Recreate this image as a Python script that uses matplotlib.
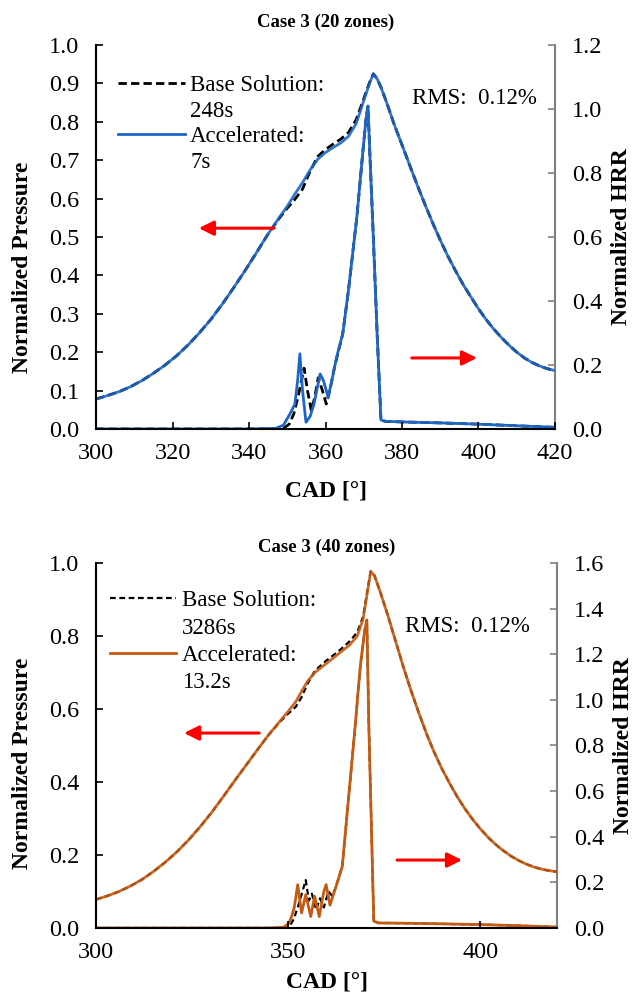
import matplotlib
matplotlib.use("Agg")
import matplotlib.pyplot as plt
from matplotlib.lines import Line2D

plt.rcParams['font.family'] = ['Liberation Serif', 'DejaVu Serif']

# ---- Case 3 (20 zones) ----
cad_p1 = [300, 303, 306, 309, 312, 315, 318, 321, 324, 327, 330, 333, 336, 339, 342, 345,
          348, 350, 352, 354, 356, 358, 360, 362, 364, 366, 368, 370, 371.5, 372.5, 373.5,
          374.5, 376, 378, 380, 382, 384, 386, 388, 390, 392, 394, 396, 398, 400, 402, 404,
          406, 408, 410, 412, 414, 416, 418, 420]
p_acc1 = [0.078, 0.087, 0.097, 0.11, 0.126, 0.145, 0.166, 0.19, 0.218, 0.25, 0.285, 0.325,
          0.368, 0.413, 0.46, 0.508, 0.552, 0.58, 0.612, 0.642, 0.675, 0.703, 0.72, 0.733,
          0.745, 0.762, 0.795, 0.855, 0.9, 0.925, 0.912, 0.89, 0.85, 0.792, 0.74, 0.687,
          0.635, 0.585, 0.537, 0.492, 0.45, 0.412, 0.376, 0.344, 0.313, 0.285, 0.26, 0.238,
          0.218, 0.2, 0.185, 0.173, 0.164, 0.157, 0.152]
p_base1 = [0.078, 0.087, 0.097, 0.11, 0.126, 0.145, 0.166, 0.19, 0.218, 0.25, 0.285, 0.325,
           0.368, 0.413, 0.46, 0.508, 0.55, 0.575, 0.598, 0.625, 0.672, 0.71, 0.728, 0.742,
           0.755, 0.772, 0.805, 0.86, 0.902, 0.925, 0.912, 0.89, 0.85, 0.792, 0.74, 0.687,
           0.635, 0.585, 0.537, 0.492, 0.45, 0.412, 0.376, 0.344, 0.313, 0.285, 0.26, 0.238,
           0.218, 0.2, 0.185, 0.173, 0.164, 0.157, 0.152]

cad_h1 = [300, 340, 347, 349, 350.7, 352, 352.7, 353.3, 354, 354.9, 356, 357, 358.6, 359.5,
          360.7, 361.8, 362.9, 364.5, 366, 368.2, 369.8, 370.6, 371.1, 371.6, 372.5, 373.5,
          374.5, 375.6, 380, 390, 400, 410, 420]
hrr_acc1 = [0, 0, 0.002, 0.012, 0.047, 0.078, 0.15, 0.235, 0.12, 0.021, 0.04, 0.078, 0.172,
            0.15, 0.099, 0.16, 0.224, 0.297, 0.433, 0.663, 0.871, 0.97, 1.009, 0.86, 0.6,
            0.297, 0.028, 0.024, 0.022, 0.019, 0.015, 0.01, 0.005]
cad_hb1 = [300, 347, 349, 350.5, 351.7, 353, 354.4, 355.3, 356.3, 357.2, 358.1, 359.2, 360.2,
           361.3, 362.3, 363.5, 364.5, 366, 368.2, 369.8, 370.6, 371.1, 371.6, 372.5, 373.5,
           374.5, 375.6, 380, 390, 400, 410, 420]
hrr_base1 = [0, 0, 0.002, 0.015, 0.047, 0.11, 0.19, 0.12, 0.057, 0.1, 0.16, 0.12, 0.078,
             0.13, 0.19, 0.25, 0.297, 0.433, 0.663, 0.871, 0.97, 1.009, 0.86, 0.6, 0.297,
             0.028, 0.024, 0.022, 0.019, 0.015, 0.01, 0.005]

# ---- Case 3 (40 zones) ----
cad_p2 = [300, 303, 306, 309, 312, 315, 318, 321, 324, 327, 330, 333, 336, 339, 342, 345,
          348, 350, 352, 353.5, 355, 357, 360, 363, 366, 368, 369.5, 370.5, 371.5, 372.5,
          374, 376, 378, 380, 382, 384, 386, 388, 390, 392, 394, 396, 398, 400, 402, 404,
          406, 408, 410, 412, 414, 416, 418, 420]
p_acc2 = [0.078, 0.088, 0.1, 0.115, 0.133, 0.155, 0.18, 0.208, 0.24, 0.276, 0.315, 0.358,
          0.402, 0.445, 0.488, 0.53, 0.568, 0.593, 0.62, 0.648, 0.675, 0.70, 0.725, 0.75,
          0.775, 0.80, 0.845, 0.91, 0.977, 0.965, 0.92, 0.855, 0.785, 0.715, 0.65, 0.59,
          0.533, 0.482, 0.437, 0.397, 0.36, 0.327, 0.298, 0.272, 0.249, 0.229, 0.212, 0.197,
          0.185, 0.175, 0.167, 0.161, 0.157, 0.154]
p_base2 = [0.078, 0.088, 0.1, 0.115, 0.133, 0.155, 0.18, 0.208, 0.24, 0.276, 0.315, 0.358,
           0.402, 0.445, 0.488, 0.53, 0.566, 0.587, 0.606, 0.632, 0.668, 0.705, 0.733, 0.757,
           0.785, 0.81, 0.852, 0.915, 0.977, 0.965, 0.92, 0.855, 0.785, 0.715, 0.65, 0.59,
           0.533, 0.482, 0.437, 0.397, 0.36, 0.327, 0.298, 0.272, 0.249, 0.229, 0.212, 0.197,
           0.185, 0.175, 0.167, 0.161, 0.157, 0.154]

cad_h2 = [300, 345, 348.8, 350.2, 350.9, 351.6, 352.5, 353.5, 354.6, 355.9, 356.9, 358.1,
          359.3, 359.9, 360.9, 362.5, 364.1, 365.7, 367.3, 368.8, 369.9, 370.5, 371, 371.6,
          372.3, 373.5, 380, 390, 400, 410, 420]
hrr_acc2 = [0, 0, 0.003, 0.02, 0.05, 0.09, 0.19, 0.066, 0.146, 0.05, 0.139, 0.05, 0.16, 0.19,
            0.10, 0.183, 0.27, 0.563, 0.855, 1.148, 1.3, 1.35, 0.9, 0.5, 0.03, 0.022, 0.021,
            0.018, 0.015, 0.01, 0.004]
cad_hb2 = [300, 349.5, 350.5, 351.5, 352.7, 354.6, 355.4, 356.2, 357.3, 358.3, 359.3, 360.5,
           361.5, 362.5, 364.1, 365.7, 367.3, 368.8, 369.9, 370.5, 371, 371.6, 372.3, 373.5,
           380, 390, 400, 410, 420]
hrr_base2 = [0, 0, 0.01, 0.04, 0.1, 0.21, 0.12, 0.15, 0.08, 0.13, 0.09, 0.16, 0.14, 0.183,
             0.27, 0.563, 0.855, 1.148, 1.3, 1.35, 0.9, 0.5, 0.03, 0.022, 0.021, 0.018,
             0.015, 0.01, 0.004]

BLUE = '#1E66C4'
ORANGE = '#C55A11'
GREY = '#808080'
TICK_FS = 17.5
LAB_FS = 17
LEG_FS = 16.5


def style_axes(ax, ax2):
    for s in ['top', 'right']:
        ax.spines[s].set_visible(False)
    for s in ['top', 'left', 'bottom']:
        ax2.spines[s].set_visible(False)
    ax.spines['left'].set_linewidth(1.5)
    ax.spines['bottom'].set_linewidth(1.5)
    ax2.spines['right'].set_color(GREY)
    ax2.spines['right'].set_linewidth(1.5)
    ax.tick_params(axis='both', direction='in', length=5, width=1.2, labelsize=TICK_FS)
    ax.tick_params(axis='y', pad=12)
    ax.tick_params(axis='x', pad=10)
    ax2.tick_params(axis='y', direction='in', length=5, width=1.2, colors=GREY,
                    labelcolor='black', labelsize=TICK_FS, pad=12)


def draw(rect, title, cad_p, p_base, p_acc, cad_hb, hrr_base, cad_h, hrr_acc, color,
         hmax, pstep, xstep, lw_base, dash, base_label, acc_label, leg_xy, lspace, rms_xy,
         larrow, rarrow, ylab_y, xlab_y, title_y):
    ax = fig.add_axes(rect)
    ax2 = ax.twinx()
    ax.set_zorder(ax2.get_zorder() + 1)
    ax.patch.set_visible(False)

    ax2.plot(cad_hb, hrr_base, color='black', lw=lw_base, ls=(0, dash))
    ax2.plot(cad_h, hrr_acc, color=color, lw=2.0)
    ax.plot(cad_p, p_base, color='black', lw=lw_base, ls=(0, dash))
    ax.plot(cad_p, p_acc, color=color, lw=2.0, alpha=0.9)

    ax.set_xlim(300, 420)
    ax.set_ylim(0, 1.0)
    ax2.set_ylim(0, hmax)
    ax.set_xticks(range(300, 421, xstep))
    ax.set_yticks([round(v * pstep, 1) for v in range(0, int(round(1 / pstep)) + 1)])
    ax.yaxis.set_major_formatter(plt.FormatStrFormatter('%.1f'))
    ax2.set_yticks([round(v * 0.2, 1) for v in range(0, int(round(hmax / 0.2)) + 1)])
    ax2.yaxis.set_major_formatter(plt.FormatStrFormatter('%.1f'))
    style_axes(ax, ax2)

    ax.set_ylabel('Normalized Pressure', fontsize=LAB_FS, fontweight='bold')
    ax.yaxis.set_label_coords(-0.137, ylab_y)
    ax2.set_ylabel('Normalized HRR', fontsize=LAB_FS, fontweight='bold', rotation=90)
    ax2.yaxis.set_label_coords(1.122, 0.5)
    ax.set_xlabel('CAD [°]', fontsize=LAB_FS, fontweight='bold')
    ax.xaxis.set_label_coords(0.5, xlab_y)
    ax.text(0.5, title_y, title, transform=ax.transAxes, ha='center', va='center',
            fontsize=13.5, fontweight='bold')

    handles = [Line2D([], [], color='black', lw=lw_base, ls=(0, dash)),
               Line2D([], [], color='none'),
               Line2D([], [], color=color, lw=2.0),
               Line2D([], [], color='none')]
    labels = [base_label[0], base_label[1], acc_label[0], acc_label[1]]
    ax.legend(handles, labels, loc='upper left', bbox_to_anchor=leg_xy, frameon=False,
              fontsize=LEG_FS, handlelength=2.9, handletextpad=0.25, labelspacing=lspace,
              borderpad=0, borderaxespad=0)

    ax.text(rms_xy[0], rms_xy[1], 'RMS:  0.12%', transform=ax.transAxes, fontsize=LEG_FS,
            ha='left', va='center')
    for (x0, x1, y) in (larrow, rarrow):
        ax.annotate('', xy=(x1, y), xytext=(x0, y), xycoords='axes fraction',
                    arrowprops=dict(arrowstyle='-|>', color='red', lw=2.2,
                                    mutation_scale=22, shrinkA=0, shrinkB=0))
    return ax


fig = plt.figure(figsize=(6.35, 9.96), dpi=100)

draw([0.1512, 0.5693, 0.7228, 0.3855], 'Case 3 (20 zones)', cad_p1, p_base1, p_acc1,
     cad_hb1, hrr_base1, cad_h1, hrr_acc1, BLUE, 1.2, 0.1, 20, 2.0, (3, 1.5),
     ('Base Solution:', '248s'), ('Accelerated:', '7s'), (0.048, 0.922), 0.2,
     (0.688, 0.862), (0.388, 0.224, 0.523), (0.688, 0.830, 0.185), 0.42, -0.135, 1.06)

draw([0.1512, 0.0683, 0.726, 0.3665], 'Case 3 (40 zones)', cad_p2, p_base2, p_acc2,
     cad_hb2, hrr_base2, cad_h2, hrr_acc2, ORANGE, 1.6, 0.2, 50, 1.6, (2.6, 1.6),
     ('Base Solution:', '3286s'), ('Accelerated:', '13.2s'), (0.030, 0.925), 0.27,
     (0.67, 0.825), (0.354, 0.191, 0.534), (0.653, 0.794, 0.186), 0.45, -0.12, 1.044)

fig.savefig('out.png', dpi=100)
